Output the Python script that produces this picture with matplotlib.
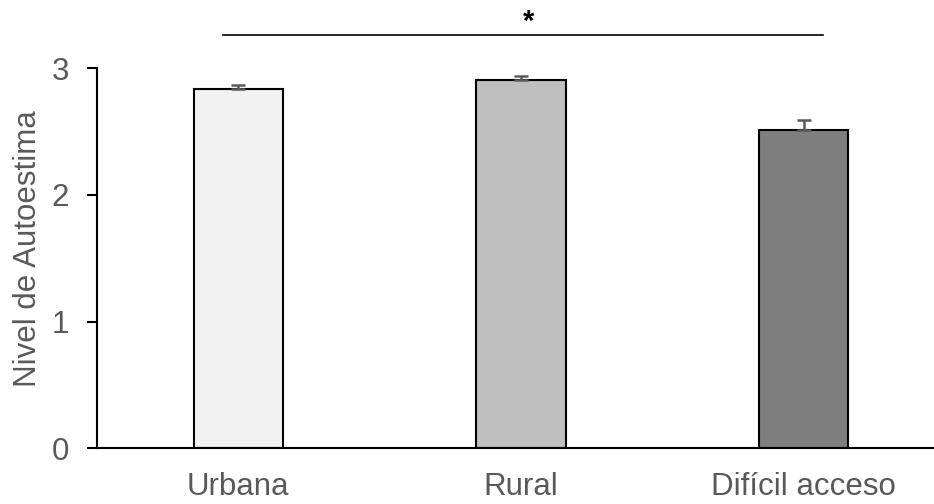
import matplotlib.pyplot as plt

plt.rcParams['font.family'] = ['Liberation Sans', 'DejaVu Sans']

# Mean self-esteem per zone, with upper standard error
zonas = ["Urbana", "Rural", "Difícil acceso"]
medias = [2.84, 2.91, 2.51]
errores = [0.026, 0.026, 0.084]
colores = ["#f2f2f2", "#bfbfbf", "#7f7f7f"]
yticks = [0, 1, 2, 3]

gris = "#595959"

fig = plt.figure(figsize=(9.34, 5.04), dpi=100)
ax = fig.add_axes([97 / 934, 55.7 / 504, 848 / 934, 380 / 504])

x = range(len(zonas))
ax.bar(x, medias, width=0.315, color=colores, edgecolor="black", linewidth=1.5, zorder=2)
ax.errorbar(x, medias, yerr=[[0] * len(errores), errores], fmt="none",
            ecolor=gris, elinewidth=1.8, capsize=5, capthick=1.8, zorder=3)

ax.set_xlim(-0.5, 2.5)
ax.set_ylim(0, 3)
ax.set_yticks(yticks)
ax.set_xticks(list(x))
ax.set_xticklabels(zonas)

ax.spines["top"].set_visible(False)
ax.spines["right"].set_visible(False)
for s in ("left", "bottom"):
    ax.spines[s].set_linewidth(1.5)
ax.tick_params(axis="y", direction="out", length=7, width=1.5, pad=13,
               labelsize=22.5, labelcolor=gris)
ax.tick_params(axis="x", length=0, pad=17, labelsize=22.5, labelcolor=gris)
ax.set_ylabel("Nivel de Autoestima", fontsize=22.5, color=gris, labelpad=6)
ax.yaxis.label.set_y(0.525)

# significance bracket between Urbana and Difícil acceso
ax.plot([-0.056, 2.068], [3.263, 3.263], color="black", linewidth=1.2, clip_on=False)
ax.text(1.028, 3.30, "*", ha="center", va="baseline", fontsize=21, fontweight="bold",
        color="black", clip_on=False)

fig.savefig("out.png", dpi=100)
